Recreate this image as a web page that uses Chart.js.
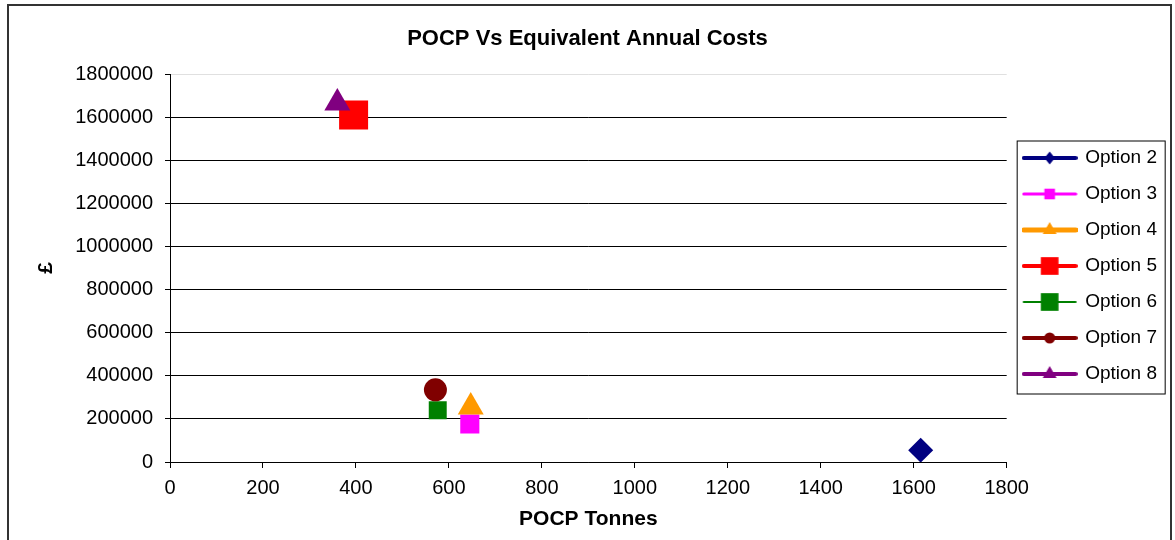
<!DOCTYPE html>
<html>
<head>
<meta charset="utf-8">
<script src="https://cdn.jsdelivr.net/npm/chart.js@4/dist/chart.umd.min.js"></script>
<style>
  html, body { margin: 0; padding: 0; background: #fff; }
  #wrap { width: 1175px; height: 540px; }
</style>
</head>
<body>
<div id="wrap"><canvas id="chart" width="1175" height="540"></canvas></div>
<script>
// values
const seriesNames = ["Option 2", "Option 3", "Option 4", "Option 5", "Option 6", "Option 7", "Option 8"];
const pocpTonnes = [1615, 645, 647, 395, 576, 571, 360];
const annualCosts = [55000, 176000, 255000, 1610000, 240000, 335000, 1665000];

// look of each series
const colors = ["#000080", "#FF00FF", "#FF9900", "#FF0000", "#008000", "#800000", "#800080"];
const markers = ["rectRot", "rect", "triangle", "rect", "rect", "circle", "triangle"];
const markerRadius = [12.5, 13.5, 15, 20.5, 12.7, 11.5, 15];
const legendLine = [4, 3, 5, 4, 2, 4, 4];
const legendMarker = [6.5, 7.5, 8, 12.5, 12.5, 5.5, 8];

const FONT = "'Liberation Sans', Arial, sans-serif";

// small picture for the legend: a line with the marker on it
function legendIcon(i) {
    const c = document.createElement("canvas");
    c.width = 56; c.height = 24;
    const g = c.getContext("2d");
    g.strokeStyle = colors[i];
    g.lineWidth = legendLine[i];
    g.lineCap = "round";
    g.beginPath();
    g.moveTo(2, 12); g.lineTo(54, 12);
    g.stroke();
    g.fillStyle = colors[i];
    const r = legendMarker[i];
    g.beginPath();
    if (markers[i] === "rectRot") {
        g.moveTo(28, 12 - r); g.lineTo(28 + r * 0.8, 12); g.lineTo(28, 12 + r); g.lineTo(28 - r * 0.8, 12);
    } else if (markers[i] === "rect") {
        const s = r * Math.SQRT1_2;
        g.rect(28 - s, 12 - s, 2 * s, 2 * s);
    } else if (markers[i] === "triangle") {
        g.moveTo(28, 12 - r); g.lineTo(28 + r * 0.866, 12 + r * 0.5); g.lineTo(28 - r * 0.866, 12 + r * 0.5);
    } else {
        g.arc(28, 12, r, 0, Math.PI * 2);
    }
    g.closePath();
    g.fill();
    return c;
}
const icons = seriesNames.map((n, i) => legendIcon(i));

const frame = {
    id: "frame",
    afterDraw(chart) {
        const ctx = chart.ctx;
        ctx.save();
        ctx.strokeStyle = "#333";
        ctx.lineWidth = 2;
        ctx.strokeRect(8, 5, 1163, 560);
        const lg = chart.legend;
        const hb = lg.legendHitBoxes;
        if (hb && hb.length) {
            const top = hb[0].top - 8;
            const bottom = hb[hb.length - 1].top + 19 + 10;
            ctx.lineWidth = 1;
            ctx.strokeStyle = "#000";
            ctx.strokeRect(lg.left + 10.5, top + 0.5, 148, bottom - top);
        }
        ctx.restore();
    }
};

new Chart(document.getElementById("chart"), {
    type: "scatter",
    data: {
        datasets: seriesNames.map((name, i) => ({
            label: name,
            data: [{ x: pocpTonnes[i], y: annualCosts[i] }],
            backgroundColor: colors[i],
            borderColor: colors[i],
            borderWidth: 0,
            pointStyle: markers[i],
            pointRadius: markerRadius[i],
            pointHoverRadius: markerRadius[i],
            order: seriesNames.length - i
        }))
    },
    options: {
        responsive: false,
        animation: false,
        events: [],
        layout: { padding: { left: 8, right: 8, top: 0, bottom: 8 } },
        plugins: {
            title: {
                display: true,
                text: "POCP Vs Equivalent Annual Costs",
                color: "#000",
                font: { family: FONT, size: 22, weight: "bold" },
                padding: { top: 26, bottom: 21.6 }
            },
            legend: {
                position: "right",
                labels: {
                    color: "#000",
                    font: { family: FONT, size: 19 },
                    usePointStyle: true,
                    pointStyleWidth: 52,
                    padding: 17,
                    generateLabels: chart => chart.data.datasets.map((ds, i) => ({
                        text: ds.label,
                        pointStyle: icons[i],
                        fillStyle: colors[i],
                        strokeStyle: colors[i],
                        lineWidth: 0,
                        hidden: false,
                        datasetIndex: i,
                        fontColor: "#000"
                    }))
                }
            },
            tooltip: { enabled: false }
        },
        scales: {
            x: {
                type: "linear",
                min: 0,
                max: 1800,
                afterFit: s => { s.height = 70; },
                ticks: {
                    stepSize: 200, color: "#000", padding: 8,
                    font: { family: FONT, size: 20 },
                    callback: v => String(v)
                },
                grid: { drawOnChartArea: false, color: "#000", tickColor: "#000", tickLength: 6 },
                border: { color: "#000", width: 1 },
                title: {
                    display: true,
                    text: "POCP Tonnes",
                    color: "#000",
                    font: { family: FONT, size: 21, weight: "bold" },
                    padding: { top: 0, bottom: 0 }
                }
            },
            y: {
                min: 0,
                max: 1800000,
                afterFit: s => { s.width = 162; },
                ticks: {
                    stepSize: 200000, color: "#000", padding: 12,
                    font: { family: FONT, size: 20 },
                    callback: v => String(v)
                },
                grid: {
                    color: c => (c.tick && c.tick.value === 1800000 ? "#e0e0e0" : "#000"),
                    tickColor: "#000",
                    tickLength: 5
                },
                border: { color: "#000", width: 1 },
                title: {
                    display: true,
                    text: "£",
                    color: "#000",
                    font: { family: FONT, size: 21, weight: "bold" },
                    padding: { top: 26, bottom: 0 }
                }
            }
        }
    },
    plugins: [frame]
});
</script>
</body>
</html>
